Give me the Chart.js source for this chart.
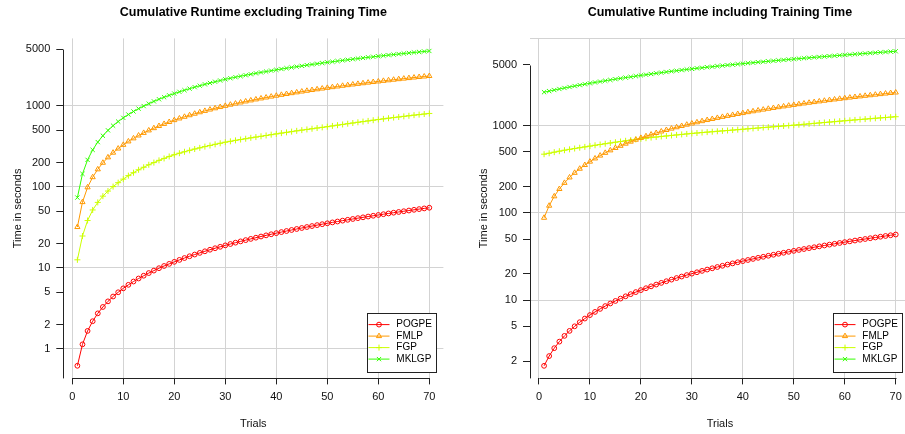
<!DOCTYPE html>
<html>
<head>
<meta charset="utf-8">
<script src="https://cdn.jsdelivr.net/npm/chart.js@4.4.1/dist/chart.umd.min.js"></script>
<style>
html, body { margin:0; padding:0; background:#fff; overflow:hidden; width:905px; height:434px; }
.panel { position:absolute; top:0; height:434px; }
#p1 { left:0; width:452px; }
#p2 { left:452px; width:470px; }
</style>
</head>
<body>
<div class="panel" id="p1"><canvas id="c1" width="452" height="434"></canvas></div>
<div class="panel" id="p2"><canvas id="c2" width="470" height="434"></canvas></div>
<script>
// trials 1..70
const trials = [1,2,3,4,5,6,7,8,9,10,11,12,13,14,15,16,17,18,19,20,21,22,23,24,25,26,27,28,29,30,
  31,32,33,34,35,36,37,38,39,40,41,42,43,44,45,46,47,48,49,50,51,52,53,54,55,56,57,58,59,60,
  61,62,63,64,65,66,67,68,69,70];

const seriesNames = ["POGPE", "FMLP", "FGP", "MKLGP"];

// cumulative runtime, excluding training time (seconds)
const pogpeExcl = [0.62,1.14,1.67,2.2,2.75,3.3,3.87,4.44,5.01,5.6,6.19,6.8,7.41,8.02,8.65,9.28,9.93,10.58,11.23,11.9,
  12.57,13.26,13.95,14.64,15.35,16.06,16.79,17.52,18.25,19.0,19.75,20.52,21.29,22.06,22.85,23.64,24.45,25.26,26.07,26.9,
  27.73,28.58,29.43,30.28,31.15,32.02,32.91,33.8,34.69,35.6,36.51,37.44,38.37,39.3,40.25,41.2,42.17,43.14,44.11,45.1,
  46.09,47.1,48.11,49.12,50.15,51.18,52.23,53.28,54.33,55.4];
const fmlpExcl = [32,65,99,132,165,199,232,265,298,331,365,398,432,465,499,532,566,600,634,668,
  701,735,768,802,836,869,903,936,970,1003,1037,1070,1104,1137,1171,1204,1238,1271,1305,1338,
  1372,1405,1439,1472,1506,1539,1573,1606,1640,1673,1707,1740,1774,1807,1841,1874,1908,1941,1975,2008,
  2042,2075,2109,2142,2176,2209,2243,2276,2310,2343];
const fgpExcl = [12.6,24.8,38.5,52,64.5,77,89,101,113,125,138,150,163,175,188,200,213,225,238,250,
  261,272,283,294,304,315,325,336,346,357,366,376,385,394,404,413,422,432,442,452,
  462,472,482,493,503,513,523,534,544,555,567,579,591,604,616,629,641,654,667,680,
  693,706,719,731,744,757,770,782,795,808];
const mklgpExcl = [74,145,216,287,358,429,500,571,642,713,784,855,926,997,1068,1139,1210,1281,1352,1423,
  1494,1565,1636,1707,1778,1849,1920,1991,2062,2133,2199,2265,2331,2397,2463,2529,2595,2661,2727,2793,
  2859,2925,2991,3057,3123,3189,3255,3321,3387,3453,3519,3585,3651,3717,3783,3849,3915,3981,4047,4113,
  4179,4245,4311,4377,4443,4509,4575,4641,4707,4773];

// cumulative runtime, including training time (seconds)
const pogpeIncl = [1.77,2.29,2.82,3.35,3.9,4.45,5.02,5.59,6.16,6.75,7.34,7.95,8.56,9.17,9.8,10.43,11.08,11.73,12.38,13.05,
  13.72,14.41,15.1,15.79,16.5,17.21,17.94,18.67,19.4,20.15,20.9,21.67,22.44,23.21,24.0,24.79,25.6,26.41,27.22,28.05,
  28.88,29.73,30.58,31.43,32.3,33.17,34.06,34.95,35.84,36.75,37.66,38.59,39.52,40.45,41.4,42.35,43.32,44.29,45.26,46.25,
  47.24,48.25,49.26,50.27,51.3,52.33,53.38,54.43,55.48,56.55];
const fmlpIncl = [88,121,155,188,221,255,288,321,354,387,421,454,488,521,555,588,622,656,690,724,
  757,791,824,858,892,925,959,992,1026,1059,1093,1126,1160,1193,1227,1260,1294,1327,1361,1394,
  1428,1461,1495,1528,1562,1595,1629,1662,1696,1729,1763,1796,1830,1863,1897,1930,1964,1997,2031,2064,
  2098,2131,2165,2198,2232,2265,2299,2332,2366,2399];
const fgpIncl = [471,483,497,510,523,535,547,559,571,583,596,608,621,633,646,658,671,683,696,708,
  719,730,741,752,762,773,783,794,804,815,824,834,843,852,862,871,880,890,900,910,
  920,930,940,951,961,971,981,992,1002,1013,1025,1037,1049,1062,1074,1087,1099,1112,1125,1138,
  1151,1164,1177,1189,1202,1215,1228,1240,1253,1266];
const mklgpIncl = [2419,2490,2561,2632,2703,2774,2845,2916,2987,3058,3129,3200,3271,3342,3413,3484,3555,3626,3697,3768,
  3839,3910,3981,4052,4123,4194,4265,4336,4407,4478,4544,4610,4676,4742,4808,4874,4940,5006,5072,5138,
  5204,5270,5336,5402,5468,5534,5600,5666,5732,5798,5864,5930,5996,6062,6128,6194,6260,6326,6392,6458,
  6524,6590,6656,6722,6788,6854,6920,6986,7052,7118];

// axis ticks
const xTicks = [0,10,20,30,40,50,60,70];
const yLabelsExcl = [1,2,5,10,20,50,100,200,500,1000,5000];
const yGridExcl = [1,10,100,1000];
const yLabelsIncl = [2,5,10,20,50,100,200,500,1000,5000];
const yGridIncl = [10,100,1000,10000];

const colors = ["#FF0000", "#FF9900", "#CCFF00", "#33FF00"];
const markers = ["circle", "triangle", "cross", "crossRot"];

Chart.defaults.font.family = '"Liberation Sans", Arial, Helvetica, sans-serif';
Chart.defaults.color = "#111";

const titlePlugin = {
  id: "panelTitle",
  afterDraw(chart) {
    const {ctx, chartArea: a} = chart;
    ctx.save();
    ctx.font = 'bold 12.5px "Liberation Sans", Arial, sans-serif';
    ctx.fillStyle = "#000";
    ctx.textAlign = "center";
    ctx.textBaseline = "middle";
    ctx.fillText(chart.options.plugins.panelTitle.text, (a.left + a.right) / 2, 13);
    ctx.restore();
  }
};

const axisLines = {
  id: "axisLines",
  afterDraw(chart) {
    const {ctx, chartArea: a, scales} = chart;
    const o = chart.options.plugins.axisLines;
    ctx.save();
    ctx.strokeStyle = "#222";
    ctx.lineWidth = 1;
    ctx.beginPath();
    const lx = Math.round(a.left) + 0.5;
    ctx.moveTo(lx, Math.round(scales.y.getPixelForValue(o.yTop)) + 0.5);
    ctx.lineTo(lx, a.bottom);
    const by = Math.round(a.bottom) + 0.5;
    ctx.moveTo(Math.round(scales.x.getPixelForValue(xTicks[0])) + 0.5, by);
    ctx.lineTo(Math.round(scales.x.getPixelForValue(xTicks[xTicks.length - 1])) + 0.5, by);
    ctx.stroke();
    ctx.restore();
  }
};

const boxLegend = {
  id: "boxLegend",
  afterDraw(chart) {
    const {ctx, chartArea: a} = chart;
    const w = 69, h = 59;
    const x0 = Math.round(a.right - 7.4 - w), y0 = Math.round(a.bottom - 6.7 - h);
    ctx.save();
    ctx.fillStyle = "#fff";
    ctx.fillRect(x0, y0, w, h);
    ctx.strokeStyle = "#222";
    ctx.lineWidth = 1;
    ctx.strokeRect(x0 + 0.5, y0 + 0.5, w, h);
    chart.data.datasets.forEach((ds, i) => {
      const yy = y0 + 11.6 + i * 11.5;
      ctx.strokeStyle = ds.borderColor;
      ctx.lineWidth = 1;
      ctx.beginPath();
      ctx.moveTo(x0 + 1.5, yy);
      ctx.lineTo(x0 + 22.5, yy);
      ctx.stroke();
      if (Chart.helpers && Chart.helpers.drawPoint) {
        ctx.fillStyle = "rgba(0,0,0,0)";
        Chart.helpers.drawPoint(ctx, {pointStyle: ds.pointStyle, radius: ds.pointRadius, borderWidth: 1, rotation: 0}, x0 + 12, yy);
      }
      ctx.fillStyle = "#000";
      ctx.font = '10px "Liberation Sans", Arial, sans-serif';
      ctx.textAlign = "left";
      ctx.textBaseline = "middle";
      ctx.fillText(ds.label, x0 + 29.3, yy);
    });
    ctx.restore();
  }
};

function makeChart(id, title, series, yMin, yMax, yLabels, yGrid, box) {
  const yAll = yLabels.concat(yGrid.filter(v => !yLabels.includes(v))).sort((p, q) => p - q);
  const datasets = series.map((vals, i) => ({
    label: seriesNames[i],
    data: trials.map((t, k) => ({x: t, y: vals[k]})),
    borderColor: colors[i],
    backgroundColor: "rgba(0,0,0,0)",
    pointBackgroundColor: "rgba(0,0,0,0)",
    pointBorderColor: colors[i],
    pointStyle: markers[i],
    pointRadius: i === 0 ? 2.4 : 3,
    pointBorderWidth: 1,
    borderWidth: 1,
    tension: 0
  }));

  return new Chart(document.getElementById(id), {
    type: "line",
    data: {datasets},
    options: {
      responsive: false,
      animation: false,
      devicePixelRatio: 1,
      layout: {padding: {left: 0, top: 38.4, right: box.padRight, bottom: 0}},
      plugins: {
        legend: {display: false},
        tooltip: {enabled: false},
        panelTitle: {text: title},
        axisLines: {yTop: yLabels[yLabels.length - 1]}
      },
      scales: {
        x: {
          type: "linear",
          min: -1.76,
          max: 72.76,
          afterBuildTicks: s => { s.ticks = xTicks.map(v => ({value: v})); },
          afterFit: s => { s.height = 55.6; },
          ticks: {font: {size: 11}, padding: 6, maxRotation: 0, autoSkip: false},
          grid: {color: "#D3D3D3", tickColor: "#222", tickLength: 6, lineWidth: 1},
          border: {display: false},
          title: {display: true, text: "Trials", font: {size: 11}, color: "#111", padding: {top: 0, bottom: 3.4}}
        },
        y: {
          type: "logarithmic",
          min: yMin,
          max: yMax,
          afterBuildTicks: s => { s.ticks = yAll.map(v => ({value: v})); },
          afterFit: s => { s.width = box.yWidth; },
          ticks: {
            font: {size: 11},
            padding: 6,
            autoSkip: false,
            callback: v => yLabels.includes(v) ? String(v) : ""
          },
          grid: {
            color: c => (c.tick && yGrid.includes(c.tick.value)) ? "#D3D3D3" : "rgba(0,0,0,0)",
            tickColor: c => (c.tick && yLabels.includes(c.tick.value)) ? "#222" : "rgba(0,0,0,0)",
            tickLength: 7,
            lineWidth: 1
          },
          border: {display: false},
          title: {display: true, text: "Time in seconds", font: {size: 11}, color: "#111", padding: {top: box.titlePad, bottom: 0}}
        }
      }
    },
    plugins: [titlePlugin, axisLines, boxLegend]
  });
}

makeChart("c1", "Cumulative Runtime excluding Training Time",
  [pogpeExcl, fmlpExcl, fgpExcl, mklgpExcl], 0.433, 6825, yLabelsExcl, yGridExcl,
  {padRight: 8.6, yWidth: 63.3, titlePad: 11.4});

makeChart("c2", "Cumulative Runtime including Training Time",
  [pogpeIncl, fmlpIncl, fgpIncl, mklgpIncl], 1.27, 10000, yLabelsIncl, yGridIncl,
  {padRight: 12.2, yWidth: 78, titlePad: 25.4});
</script>
</body>
</html>
